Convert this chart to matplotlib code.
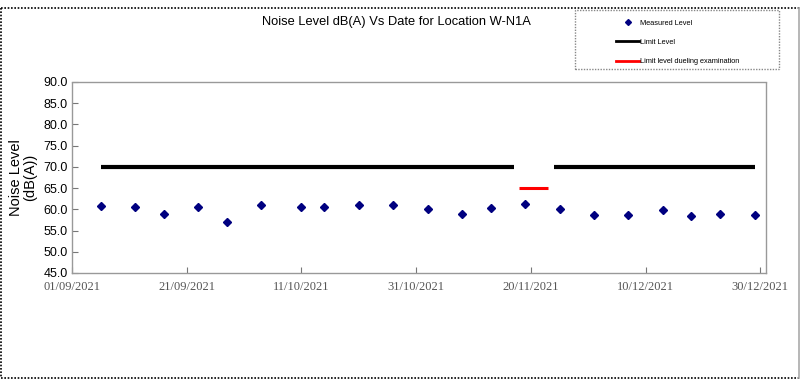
import matplotlib
matplotlib.use("Agg")
import matplotlib.pyplot as plt
import matplotlib.dates as mdates
from matplotlib.lines import Line2D
from matplotlib.patches import Rectangle
import numpy as np
import datetime as dt

# ---- data ----
measured_dates = ["2021-09-06", "2021-09-12", "2021-09-17", "2021-09-23", "2021-09-28",
                  "2021-10-04", "2021-10-11", "2021-10-15", "2021-10-21", "2021-10-27",
                  "2021-11-02", "2021-11-08", "2021-11-13", "2021-11-19", "2021-11-25",
                  "2021-12-01", "2021-12-07", "2021-12-13", "2021-12-18", "2021-12-23",
                  "2021-12-29"]
measured_levels = [60.8, 60.5, 58.9, 60.6, 57.0, 61.0, 60.5, 60.6, 61.0, 61.0,
                   60.0, 59.0, 60.2, 61.2, 60.0, 58.7, 58.7, 59.9, 58.4, 59.0, 58.6]

limit1_dates = ["2021-09-06", "2021-11-17"]
limit1_levels = [70.0, 70.0]
limit2_dates = ["2021-11-24", "2021-12-29"]
limit2_levels = [70.0, 70.0]
limit_exam_dates = ["2021-11-18", "2021-11-23"]
limit_exam_levels = [65.0, 65.0]

x_ticks = ["2021-09-01", "2021-09-21", "2021-10-11", "2021-10-31",
           "2021-11-20", "2021-12-10", "2021-12-30"]
y_ticks = [45, 50, 55, 60, 65, 70, 75, 80, 85, 90]

title = "Noise Level dB(A) Vs Date for Location W-N1A"
ylabel = "Noise Level\n(dB(A))"
legend_labels = ["Measured Level", "Limit Level", "Limit level dueling examination"]

def to_dt(lst):
    return [dt.datetime.strptime(s, "%Y-%m-%d") for s in lst]

W, H = 803, 390
fig = plt.figure(figsize=(W / 100, H / 100), dpi=100)
plt.rcParams['font.family'] = ['Liberation Sans', 'DejaVu Sans']

ax = fig.add_axes([72 / W, 1 - 273 / H, (766 - 72) / W, (273 - 82) / H])

ax.plot(to_dt(limit1_dates), limit1_levels, color="black", lw=3, solid_capstyle="butt")
ax.plot(to_dt(limit2_dates), limit2_levels, color="black", lw=3, solid_capstyle="butt")
ax.plot(to_dt(limit_exam_dates), limit_exam_levels, color="#ff0000", lw=2.2, solid_capstyle="butt")
ax.plot(to_dt(measured_dates), measured_levels, linestyle="none", marker="D",
        markersize=3.8, color="#000080", markeredgecolor="#000080")

ax.set_xlim(dt.datetime(2021, 9, 1), dt.datetime(2021, 12, 31))
ax.set_ylim(45, 90)
ax.set_xticks(to_dt(x_ticks))
ax.xaxis.set_major_formatter(mdates.DateFormatter("%d/%m/%Y"))
ax.set_yticks(y_ticks)
ax.set_yticklabels([f"{v:.1f}" for v in y_ticks])

for lab in ax.get_xticklabels():
    lab.set_fontfamily(["Liberation Serif", "DejaVu Serif"])
    lab.set_fontsize(9)
    lab.set_color("#555555")
for lab in ax.get_yticklabels():
    lab.set_fontsize(9)
    lab.set_color("black")

ax.tick_params(axis="both", direction="in", length=4, width=0.8, color="#777777")
ax.tick_params(axis="y", pad=3)
ax.tick_params(axis="x", pad=6)
for sp in ax.spines.values():
    sp.set_color("#999999")
    sp.set_linestyle((0, (2, 1)))
    sp.set_linewidth(1.0)

ax.set_ylabel(ylabel, fontsize=10.5, linespacing=1.0, va="center")
ax.yaxis.set_label_coords(-49 / 694, 0.5)

fig.text(396 / W, 1 - 22 / H, title, ha="center", va="center", fontsize=9.3)

# legend frame
fig.patches.append(Rectangle((575 / W, 1 - 69 / H), (779 - 575) / W, (69 - 10) / H,
                             transform=fig.transFigure, fill=False, edgecolor="#888888",
                             linestyle=(0, (1, 1)), linewidth=1.0))
handles = [Line2D([], [], linestyle="none", marker="D", markersize=3, color="#000080"),
           Line2D([], [], color="black", lw=2),
           Line2D([], [], color="#ff0000", lw=2)]
leg = fig.legend(handles, legend_labels, loc="upper left",
                 bbox_to_anchor=(615 / W, 1 - 18 / H), frameon=False,
                 fontsize=5.3, handlelength=3.0, handletextpad=0.2,
                 labelspacing=1.65, borderpad=0.2, borderaxespad=0)

# outer border
fig.add_artist(Line2D([0.5 / W, 800 / W], [1 - 8 / H, 1 - 8 / H], transform=fig.transFigure,
                      color="black", lw=1.2, linestyle=(0, (1, 1))))
fig.add_artist(Line2D([1 / W, 1 / W], [1 - 8 / H, 1 - 378 / H], transform=fig.transFigure,
                      color="black", lw=1.2, linestyle=(0, (1, 1))))
fig.add_artist(Line2D([0.5 / W, 799 / W], [1 - 378 / H, 1 - 378 / H], transform=fig.transFigure,
                      color="black", lw=1.2, linestyle=(0, (1, 1))))
fig.add_artist(Line2D([799 / W, 799 / W], [1 - 8 / H, 1 - 378 / H], transform=fig.transFigure,
                      color="#aaaaaa", lw=1.2))

fig.savefig("out.png", dpi=100)
